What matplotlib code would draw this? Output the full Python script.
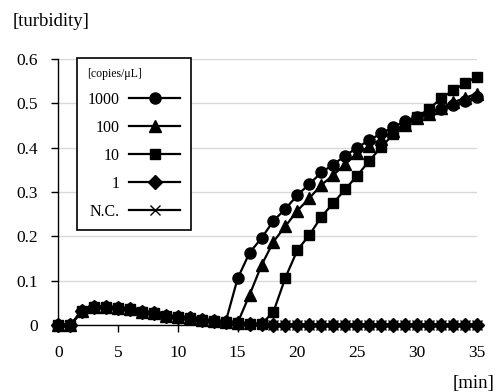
import matplotlib
import matplotlib.pyplot as plt

matplotlib.use("Agg")

# Data (turbidity vs time)
time_min = list(range(36))

copies_1000 = [0, 0, 0.032, 0.041, 0.040, 0.038, 0.035, 0.030, 0.026, 0.021, 0.019, 0.015, 0.012, 0.010, 0.007,
               0.105, 0.163, 0.196, 0.235, 0.262, 0.293, 0.318, 0.344, 0.362, 0.382, 0.400, 0.417, 0.432, 0.446,
               0.460, 0.470, 0.478, 0.488, 0.497, 0.506, 0.515]
copies_100 = [0, 0, 0.032, 0.041, 0.040, 0.038, 0.035, 0.030, 0.026, 0.021, 0.019, 0.015, 0.012, 0.010, 0.007,
              0.005, 0.068, 0.135, 0.188, 0.223, 0.258, 0.286, 0.316, 0.338, 0.363, 0.387, 0.403, 0.420, 0.437,
              0.452, 0.466, 0.477, 0.490, 0.502, 0.512, 0.522]
copies_10 = [0, 0, 0.032, 0.041, 0.040, 0.038, 0.035, 0.030, 0.026, 0.021, 0.019, 0.015, 0.012, 0.010, 0.007,
             0.005, 0.003, 0.002, 0.030, 0.107, 0.169, 0.203, 0.244, 0.275, 0.306, 0.337, 0.370, 0.401, 0.430,
             0.452, 0.469, 0.487, 0.511, 0.529, 0.545, 0.560]
copies_1 = [0, 0, 0.032, 0.041, 0.040, 0.038, 0.035, 0.030, 0.026, 0.021, 0.019, 0.015, 0.012, 0.010, 0.007,
            0.005, 0.003, 0.002, 0.001, 0.001, 0.001, 0.001, 0.001, 0.001, 0.001, 0.001, 0.001, 0.001, 0.001,
            0.001, 0.001, 0.001, 0.001, 0.001, 0.001, 0.001]
negative_ctrl = [0, 0, 0.032, 0.041, 0.040, 0.038, 0.035, 0.030, 0.026, 0.021, 0.019, 0.015, 0.012, 0.010, 0.007,
                 0.005, 0.003, 0.002, 0.001, 0.001, 0.001, 0.001, 0.001, 0.001, 0.001, 0.001, 0.001, 0.001, 0.001,
                 0.001, 0.001, 0.001, 0.001, 0.001, 0.001, 0.001]

series_labels = ["1000", "100", "10", "1", "N.C."]
x_ticks = [0, 5, 10, 15, 20, 25, 30, 35]
y_ticks = [0, 0.1, 0.2, 0.3, 0.4, 0.5, 0.6]
y_tick_labels = ["0", "0.1", "0.2", "0.3", "0.4", "0.5", "0.6"]

plt.rcParams["font.family"] = ["Liberation Serif", "DejaVu Serif"]

fig = plt.figure(figsize=(4.96, 3.92), dpi=100)
ax = fig.add_axes([0.1175, 0.1709, 0.8437, 0.6786])

styles = [
    dict(marker="o", markersize=8),
    dict(marker="^", markersize=8.5),
    dict(marker="s", markersize=7.5),
    dict(marker="D", markersize=7),
    dict(marker="x", markersize=7.5, markeredgewidth=1.0),
]
all_series = [copies_1000, copies_100, copies_10, copies_1, negative_ctrl]
for values, label, st in zip(all_series, series_labels, styles):
    ax.plot(time_min, values, color="black", linewidth=1.6, label=label, clip_on=False, zorder=3, **st)

ax.set_xlim(0, 35)
ax.set_ylim(0, 0.6)
ax.set_xticks(x_ticks)
ax.set_yticks(y_ticks)
ax.set_yticklabels(y_tick_labels)
ax.tick_params(axis="both", labelsize=12.5, direction="out", length=5, width=1, colors="black", pad=9.5)
ax.yaxis.grid(True, color="#d9d9d9", linewidth=1)
ax.set_axisbelow(True)
for side in ["top", "right"]:
    ax.spines[side].set_visible(False)
for side in ["left", "bottom"]:
    ax.spines[side].set_linewidth(1)
    ax.spines[side].set_color("black")

leg = ax.legend(loc="upper left", bbox_to_anchor=(0.045, 1.005), markerfirst=False, numpoints=1,
                fontsize=11.5, title="[copies/\u03bcL]", title_fontsize=8.5, alignment="left",
                frameon=True, fancybox=False, edgecolor="black", framealpha=1,
                handlelength=3.2, handletextpad=0.6, labelspacing=0.75, borderpad=0.65, borderaxespad=0)
leg.get_frame().set_linewidth(1.2)

fig.text(0.026, 0.946, "[turbidity]", fontsize=13.5, va="center", ha="left")
fig.text(0.997, 0.022, "[min]", fontsize=13.5, va="center", ha="right")

fig.savefig("out.png", dpi=100)
